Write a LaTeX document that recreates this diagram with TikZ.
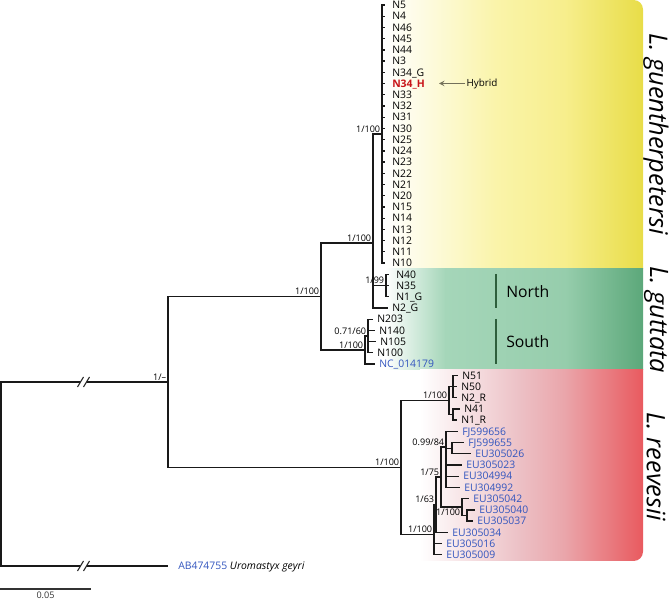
\documentclass[tikz,border=0pt]{standalone}
\usepackage{fontspec}
\setmainfont{Open Sans}
\usepackage{tikz}
\usetikzlibrary{arrows}
\usepackage{color}

\definecolor{accblue}{RGB}{50,85,190}
\definecolor{hybred}{RGB}{200,20,25}
\definecolor{popgreen}{RGB}{45,95,60}
\definecolor{arrowgray}{RGB}{115,112,90}
\definecolor{gueA}{RGB}{250,244,170}
\definecolor{gueB}{RGB}{247,238,140}
\definecolor{gueC}{RGB}{232,221,72}
\definecolor{gutA}{RGB}{165,214,185}
\definecolor{gutB}{RGB}{150,205,172}
\definecolor{gutC}{RGB}{92,168,122}
\definecolor{reeA}{RGB}{236,192,197}
\definecolor{reeB}{RGB}{234,165,170}
\definecolor{reeC}{RGB}{233,90,95}

\tikzset{
  branch/.style={draw=black!90, line width=1pt},
  leaf/.style={anchor=west, inner xsep=3pt, inner ysep=0pt, text height=5.6pt, text depth=0pt, font=\fontsize{7.8}{9}\selectfont},
  leafwide/.style={leaf, inner xsep=5.25pt},
  acc/.style={leaf, text=accblue},
  hybrid/.style={leafwide, text=hybred, font=\fontsize{7.8}{9}\selectfont\bfseries},
  support/.style={anchor=south east, inner sep=1.2pt, font=\fontsize{6.8}{8}\selectfont},
  species/.style={rotate=-90, inner sep=0pt, font=\fontsize{19}{22}\selectfont\itshape},
  popbar/.style={draw=popgreen, line width=1.5pt},
  poplabel/.style={anchor=west, inner sep=1.5pt, font=\fontsize{11.8}{14}\selectfont},
}

\begin{document}
\begin{tikzpicture}[x=0.75pt, y=-0.75pt]
            \useasboundingbox (0,0) rectangle (669,599);

            % Species panels
            \begin{scope}
                \clip[rounded corners=7pt]                                     (375,  0.0) rectangle (643,561);
                \shade[left color=white, right color=gueA]                     (385,  0.0) rectangle (495.5,269);
                \shade[left color=gueA, right color=gueB]                      (495,  0.0) rectangle (565.5,269);
                \shade[left color=gueB, right color=gueC]                      (565,  0.0) rectangle (643,269);
                \shade[left color=white, right color=gutA]                     (385,268.5) rectangle (445.5,370);
                \shade[left color=gutA, right color=gutB]                      (445,268.5) rectangle (565.5,370);
                \shade[left color=gutB, right color=gutC]                      (565,268.5) rectangle (643,370);
                \shade[left color=white, right color=reeA]                     (420,369.5) rectangle (520.5,561);
                \shade[left color=reeA, right color=reeB]                      (520,369.5) rectangle (565.5,561);
                \shade[left color=reeB, right color=reeC]                      (565,369.5) rectangle (643,561);
            \end{scope}

            % Internal nodes
            \coordinate (root)   at (  1,474.0);
            \coordinate (nIn)    at (168,382.0);
            \coordinate (nGG)    at (321,296.5);
            \coordinate (nGu)    at (373,243.0);
            \coordinate (nGue)   at (382,134.0);
            \coordinate (nNo)    at (386,285.5);
            \coordinate (nSo)    at (365,350.0);
            \coordinate (nSo2)   at (368,336.0);
            \coordinate (nRe)    at (401,467.5);
            \coordinate (nRa)    at (449,400.5);
            \coordinate (nRa1)   at (453,386.5);
            \coordinate (nRa2)   at (453,414.5);
            \coordinate (nRb)    at (434,534.5);
            \coordinate (nR63)   at (436,504.7);
            \coordinate (nR75)   at (441,477.0);
            \coordinate (nR84)   at (446,447.0);
            \coordinate (nR84b)  at (452,448.2);
            \coordinate (nR100)  at (462,507.0);
            \coordinate (nR100b) at (467,515.5);

            % L. guentherpetersi
            \node[leafwide] (N5)   at (385,  5.0) {N5};
            \node[leafwide] (N4)   at (385, 16.2) {N4};
            \node[leafwide] (N46)  at (385, 27.4) {N46};
            \node[leafwide] (N45)  at (385, 38.7) {N45};
            \node[leafwide] (N44)  at (385, 49.9) {N44};
            \node[leafwide] (N3)   at (385, 61.1) {N3};
            \node[leafwide] (N34G) at (385, 72.3) {N34\_G};
            \node[hybrid]   (N34H) at (385, 83.5) {N34\_H};
            \node[leafwide] (N33)  at (385, 94.8) {N33};
            \node[leafwide] (N32)  at (385,106.0) {N32};
            \node[leafwide] (N31)  at (385,117.2) {N31};
            \node[leafwide] (N30)  at (385,128.4) {N30};
            \node[leafwide] (N25)  at (385,139.6) {N25};
            \node[leafwide] (N24)  at (385,150.9) {N24};
            \node[leafwide] (N23)  at (385,162.1) {N23};
            \node[leafwide] (N22)  at (385,173.3) {N22};
            \node[leafwide] (N21)  at (385,184.5) {N21};
            \node[leafwide] (N20)  at (385,195.7) {N20};
            \node[leafwide] (N15)  at (385,207.0) {N15};
            \node[leafwide] (N14)  at (385,218.2) {N14};
            \node[leafwide] (N13)  at (385,229.4) {N13};
            \node[leafwide] (N12)  at (385,240.6) {N12};
            \node[leafwide] (N11)  at (385,251.8) {N11};
            \node[leafwide] (N10)  at (385,263.1) {N10};

            % L. guttata
            \node[leafwide] (N40)  at (389,274.3) {N40};
            \node[leafwide] (N35)  at (389,285.5) {N35};
            \node[leafwide] (N1G)  at (389,296.7) {N1\_G};
            \node[leaf]     (N2G)  at (388,307.9) {N2\_G};
            \node[leaf]     (N203) at (373,319.2) {N203};
            \node[leaf]     (N140) at (375,330.4) {N140};
            \node[leaf]     (N105) at (376,341.6) {N105};
            \node[leaf]     (N100) at (373,352.8) {N100};
            \node[acc]      (NC)   at (375,364.0) {NC\_014179};

            % L. reevesii
            \node[leaf]     (N51)  at (458,375.3) {N51};
            \node[leaf]     (N50)  at (457,386.5) {N50};
            \node[leaf]     (N2R)  at (457,397.7) {N2\_R};
            \node[leaf]     (N41)  at (460,408.9) {N41};
            \node[leaf]     (N1R)  at (457,420.1) {N1\_R};
            \node[acc]      (FJa)  at (458,431.4) {FJ599656};
            \node[acc]      (FJb)  at (464,442.6) {FJ599655};
            \node[acc]      (EUa)  at (471,453.8) {EU305026};
            \node[acc]      (EUb)  at (462,465.0) {EU305023};
            \node[acc]      (EUc)  at (459,476.2) {EU304994};
            \node[acc]      (EUd)  at (460,487.5) {EU304992};
            \node[acc]      (EUe)  at (469,498.7) {EU305042};
            \node[acc]      (EUf)  at (475,509.9) {EU305040};
            \node[acc]      (EUg)  at (473,521.1) {EU305037};
            \node[acc]      (EUh)  at (448,532.3) {EU305034};
            \node[acc]      (EUi)  at (442,543.6) {EU305016};
            \node[acc]      (EUj)  at (442,554.8) {EU305009};

            % Outgroup
            \node[leaf, inner xsep=7.5pt] (AB) at (168,566.0) {\textcolor{accblue}{AB474755} \textit{Uromastyx geyri}};

            % Branches
            \draw[branch] (root) |- (nIn)  (root) |- (AB.west);
            \draw[branch] (nIn)  |- (nGG)  (nIn)  |- (nRe);
            \draw[branch] (nGG)  |- (nGu)  (nGG)  |- (nSo);
            \draw[branch] (nGu)  |- (nGue) (nGu)  |- (nNo) (nGu) |- (N2G.west);
            \draw[branch] (nGue) |- (N5.west)   (nGue) |- (N4.west)   (nGue) |- (N46.west)  (nGue) |- (N45.west)
                          (nGue) |- (N44.west)  (nGue) |- (N3.west)   (nGue) |- (N34G.west) (nGue) |- (N34H.west)
                          (nGue) |- (N33.west)  (nGue) |- (N32.west)  (nGue) |- (N31.west)  (nGue) |- (N30.west)
                          (nGue) |- (N25.west)  (nGue) |- (N24.west)  (nGue) |- (N23.west)  (nGue) |- (N22.west)
                          (nGue) |- (N21.west)  (nGue) |- (N20.west)  (nGue) |- (N15.west)  (nGue) |- (N14.west)
                          (nGue) |- (N13.west)  (nGue) |- (N12.west)  (nGue) |- (N11.west)  (nGue) |- (N10.west);
            \draw[branch] (nNo)  |- (N40.west)  (nNo)  |- (N35.west)  (nNo)  |- (N1G.west);
            \draw[branch] (nSo)  |- (nSo2)      (nSo)  |- (NC.west);
            \draw[branch] (nSo2) |- (N203.west) (nSo2) |- (N140.west) (nSo2) |- (N105.west) (nSo2) |- (N100.west);
            \draw[branch] (nRe)  |- (nRa)       (nRe)  |- (nRb);
            \draw[branch] (nRa)  |- (nRa1)      (nRa)  |- (nRa2);
            \draw[branch] (nRa1) |- (N51.west)  (nRa1) |- (N50.west)  (nRa1) |- (N2R.west);
            \draw[branch] (nRa2) |- (N41.west)  (nRa2) |- (N1R.west);
            \draw[branch] (nRb)  |- (nR63)      (nRb)  |- (EUi.west)  (nRb)  |- (EUj.west);
            \draw[branch] (nR63) |- (nR75)      (nR63) |- (EUh.west);
            \draw[branch] (nR75) |- (nR84)      (nR75) |- (nR100);
            \draw[branch] (nR84) |- (FJa.west)  (nR84) |- (nR84b)     (nR84) |- (EUb.west)  (nR84) |- (EUc.west) (nR84) |- (EUd.west);
            \draw[branch] (nR84b) |- (FJb.west) (nR84b) |- (EUa.west);
            \draw[branch] (nR100) |- (EUe.west) (nR100) |- (nR100b);
            \draw[branch] (nR100b) |- (EUf.west) (nR100b) |- (EUg.west);

            % Breaks on the long root branches
            \fill[white] (77.5,387) -- (83.5,377) -- (89.5,377) -- (83.5,387) -- cycle;
            \draw[black!85, line width=0.8pt] (77.5,387) -- (83.5,377)  (83.5,387) -- (89.5,377);
            \fill[white] (77.5,571) -- (83.5,561) -- (89.5,561) -- (83.5,571) -- cycle;
            \draw[black!85, line width=0.8pt] (77.5,571) -- (83.5,561)  (83.5,571) -- (89.5,561);

            % Support values
            \node[support]                          (sIn)   at (nIn)   {1/--};
            \node[support]                          (sGG)   at (nGG)   {1/100};
            \node[support]                          (sGu)   at (nGu)   {1/100};
            \node[support]                          (sGue)  at (nGue)  {1/100};
            \node[support]                          (sNo)   at (nNo)   {1/99};
            \node[support]                          (sSo)   at (nSo)   {1/100};
            \node[support, anchor=east, yshift=3.75pt] (sSo2) at (nSo2) {0.71/60};
            \node[support]                          (sRe)   at (nRe)   {1/100};
            \node[support]                          (sRa)   at (nRa)   {1/100};
            \node[support]                          (sR84)  at (nR84)  {0.99/84};
            \node[support]                          (sR75)  at (nR75)  {1/75};
            \node[support]                          (sR63)  at (nR63)  {1/63};
            \node[support]                          (sRb)   at (nRb)   {1/100};
            \node[support, anchor=north east]       (sR100) at (nR100) {1/100};

            % Hybrid pointer
            \node[anchor=west, inner sep=1pt, font=\fontsize{7.4}{9}\selectfont] (hyb) at (465,83.5) {Hybrid};
            \coordinate (hybtip) at (439,83.5);
            \draw[arrowgray, line width=0.8pt, ->, >=stealth] (hyb.west) -- (hybtip);

            % North / South
            \coordinate (nbTop) at (496,274);
            \coordinate (nbBot) at (496,308);
            \coordinate (sbTop) at (496,319);
            \coordinate (sbBot) at (496,364);
            \draw[popbar] (nbTop) -- (nbBot);
            \draw[popbar] (sbTop) -- (sbBot);
            \node[poplabel] (north) at (504,292) {North};
            \node[poplabel] (south) at (504,342) {South};

            % Species names
            \node[species] (gue) at (656,134) {L. guentherpetersi};
            \node[species] (gut) at (656,320) {L. guttata};
            \node[species] (ree) at (656,467) {L. reevesii};

            % Scale bar
            \coordinate (sb0) at ( 0,589);
            \coordinate (sb1) at (91,589);
            \draw[black!80, line width=0.9pt] (sb0) -- (sb1) node[midway, below, inner sep=1.5pt, font=\fontsize{6.8}{8}\selectfont] (sbl) {0.05};
\end{tikzpicture}
\end{document}
